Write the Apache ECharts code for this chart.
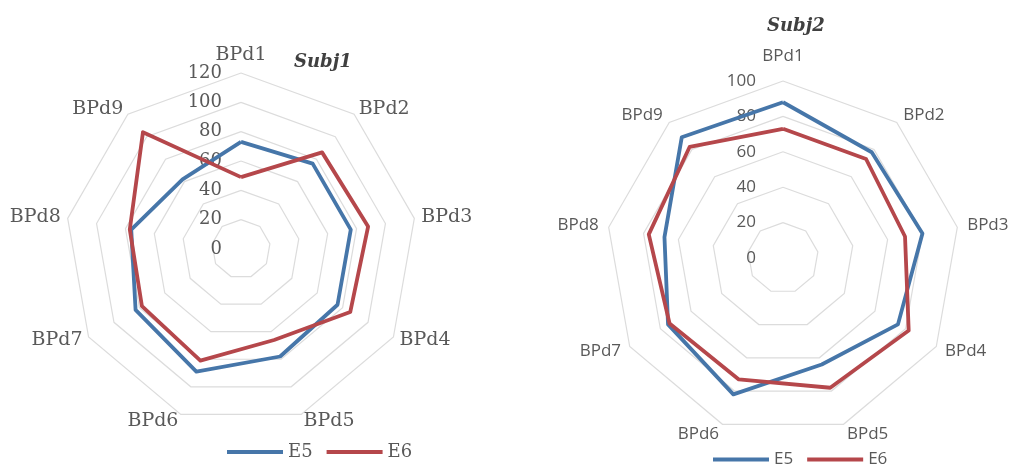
<!DOCTYPE html>
<html>
<head>
<meta charset="utf-8">
<script src="https://cdn.jsdelivr.net/npm/echarts@6/dist/echarts.min.js"></script>
<style>
  html, body { margin: 0; padding: 0; background: #ffffff; }
  #chart { width: 1019px; height: 468px; }
</style>
</head>
<body>
<div id="chart"></div>
<script>
// Indicator names shared by both radars
const categories = ['BPd1', 'BPd2', 'BPd3', 'BPd4', 'BPd5', 'BPd6', 'BPd7', 'BPd8', 'BPd9'];
const seriesNames = ['E5', 'E6'];

// Subject 1 scores
const subj1E5 = [73, 76, 76, 76, 78, 89, 83, 76, 62];
const subj1E6 = [49, 86, 88, 86, 66, 81, 78, 77, 104];

// Subject 2 scores
const subj2E5 = [88, 78, 80, 75, 64, 82, 75, 68, 89];
const subj2E6 = [73, 73, 70, 82, 78, 73, 74, 77, 82];

// Radial scale of each radar
const subj1Max = 120, subj1Split = 6;
const subj2Max = 100, subj2Split = 5;

const blue = '#4676a9';
const red = '#b5474b';
const grey = '#595959';
const serif = '"DejaVu Serif", "Liberation Serif", serif';
const sans = '"Open Sans", "Liberation Sans", sans-serif';

// ECharts lays indicators out counter-clockwise; keep the first one on top
// and walk the rest backwards so the spokes run clockwise.
const order = categories.map((_, i) => (i === 0 ? 0 : categories.length - i));
const clockwise = arr => order.map(i => arr[i]);

// Value labels appear only along the first spoke
function indicators(max, firstGap) {
  return clockwise(categories).map((name, i) => {
    const ind = { name: name, max: max, min: 0 };
    if (i > 0) ind.axisLabel = { show: false };
    if (i === 0 && firstGap != null) ind.nameGap = firstGap;
    return ind;
  });
}

function radarSeries(radarIndex, values, name, color) {
  return {
    type: 'radar',
    radarIndex: radarIndex,
    symbol: 'none',
    silent: true,
    data: [{
      name: name,
      value: clockwise(values),
      lineStyle: { color: color, width: 3.8 },
      itemStyle: { color: color }
    }]
  };
}

const chart = echarts.init(document.getElementById('chart'), null, { renderer: 'canvas' });

chart.setOption({
  animation: false,
  backgroundColor: '#ffffff',
  title: [
    {
      text: 'Subj1', left: 294, top: 53, padding: 0,
      textStyle: { fontFamily: serif, fontStyle: 'italic', fontWeight: 'bold', fontSize: 18, color: '#404040' }
    },
    {
      text: 'Subj2', left: 767, top: 17, padding: 0,
      textStyle: { fontFamily: serif, fontStyle: 'italic', fontWeight: 'bold', fontSize: 18, color: '#404040' }
    }
  ],
  legend: [
    {
      data: seriesNames, left: 227, top: 443, padding: 0,
      icon: 'rect', itemWidth: 56, itemHeight: 4, itemGap: 14,
      textStyle: { fontFamily: serif, fontSize: 18, color: grey }
    },
    {
      data: seriesNames, left: 713, top: 451, padding: 0,
      icon: 'rect', itemWidth: 56, itemHeight: 4, itemGap: 14,
      textStyle: { fontFamily: sans, fontSize: 17, color: grey }
    }
  ],
  radar: [
    {
      center: [241, 249],
      radius: 176,
      startAngle: 90,
      shape: 'polygon',
      splitNumber: subj1Split,
      indicator: indicators(subj1Max),
      nameGap: 7,
      axisName: { fontFamily: serif, fontSize: 19, color: grey },
      axisLine: { show: false },
      axisTick: { show: false },
      splitArea: { show: false },
      splitLine: { lineStyle: { color: '#dcdcdc', width: 1.2 } },
      axisLabel: { show: true, margin: 19, fontFamily: serif, fontSize: 18, color: grey }
    },
    {
      center: [783, 258],
      radius: 177,
      startAngle: 90,
      shape: 'polygon',
      splitNumber: subj2Split,
      indicator: indicators(subj2Max, 16),
      nameGap: 10,
      axisName: { fontFamily: sans, fontSize: 17, color: grey },
      axisLine: { show: false },
      axisTick: { show: false },
      splitArea: { show: false },
      splitLine: { lineStyle: { color: '#dcdcdc', width: 1.2 } },
      axisLabel: { show: true, margin: 27, fontFamily: sans, fontSize: 17, color: grey }
    }
  ],
  series: [
    radarSeries(0, subj1E5, 'E5', blue),
    radarSeries(0, subj1E6, 'E6', red),
    radarSeries(1, subj2E5, 'E5', blue),
    radarSeries(1, subj2E6, 'E6', red)
  ]
});
</script>
</body>
</html>
